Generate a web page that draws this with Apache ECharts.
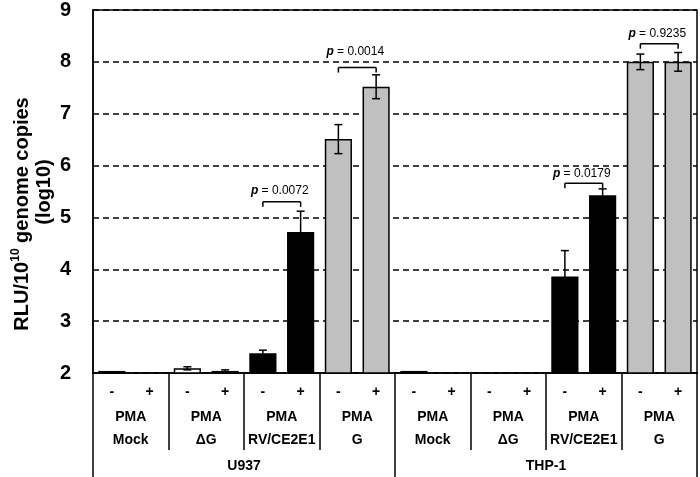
<!DOCTYPE html>
<html>
<head>
<meta charset="utf-8">
<script src="https://cdn.jsdelivr.net/npm/echarts@6/dist/echarts.min.js"></script>
<style>
  html, body { margin: 0; padding: 0; background: #fff; }
  #main { width: 700px; height: 477px; }
</style>
</head>
<body>
<div id="main"></div>
<script>
// bar categories (PMA - / +)
const categories = ['-', '+', '-', '+', '-', '+', '-', '+', '-', '+', '-', '+', '-', '+', '-', '+'];
const groups = ['Mock', 'ΔG', 'RV/CE2E1', 'G', 'Mock', 'ΔG', 'RV/CE2E1', 'G'];
const cells = ['U937', 'THP-1'];
// log10 RLU per 10^10 genome copies
const values = [2.04, null, 2.09, 2.04, 2.38, 4.72, 6.51, 7.52, 2.04, null, null, null, 3.86, 5.43, 8.0, 8.0];
const errors = [0, 0, 0.03, 0.02, 0.06, 0.40, 0.28, 0.23, 0, 0, 0, 0, 0.50, 0.12, 0.15, 0.18];
const groupColors = ['#ffffff', '#ffffff', '#000000', '#c0c0c0', '#ffffff', '#ffffff', '#000000', '#c0c0c0'];
// p value brackets: left bar, right bar, bracket level, text level
const pLabels = ['0.0072', '0.0014', '0.0179', '0.9235'];
const pLeft = [4, 6, 12, 14];
const pRight = [5, 7, 13, 15];
const pLevel = [5.30, 7.89, 5.66, 8.35];
const pTextLevel = [5.51, 8.20, 5.85, 8.54];

const FONT = 'Liberation Sans, Arial, sans-serif';

const chart = echarts.init(document.getElementById('main'));

const barData = values.map((v, i) => ({
  value: v,
  itemStyle: { color: groupColors[Math.floor(i / 2)] }
}));
const errData = values.map((v, i) => v == null ? null : [i, v - errors[i], v + errors[i]]).filter(d => d && errors[d[0]] > 0);
const bracketData = pLabels.map((p, i) => [pLeft[i], pRight[i], pLevel[i], pTextLevel[i]]);

const option = {
  animation: false,
  grid: { left: 93, right: 3, top: 8, bottom: 104, show: true, borderColor: '#000', borderWidth: 1.5 },
  xAxis: [
    {
      type: 'category', data: categories, position: 'bottom',
      axisLine: { lineStyle: { color: '#000', width: 1.5 } },
      axisTick: { show: false },
      axisLabel: { interval: 0, margin: 12, fontSize: 14, fontWeight: 'bold', color: '#000', fontFamily: FONT }
    },
    {
      type: 'category', data: groups, position: 'bottom', offset: 0,
      axisLine: { show: false },
      axisTick: { show: true, interval: 0, length: 77, lineStyle: { color: '#000', width: 1.5 } },
      axisLabel: { interval: 0, margin: 33, lineHeight: 23, formatter: 'PMA\n{value}', fontSize: 14, fontWeight: 'bold', color: '#000', fontFamily: FONT }
    },
    {
      type: 'category', data: cells, position: 'bottom', offset: 0,
      axisLine: { show: false },
      axisTick: { show: true, interval: 0, length: 104, lineStyle: { color: '#000', width: 1.5 } },
      axisLabel: { interval: 0, margin: 86, fontSize: 14, fontWeight: 'bold', color: '#000', fontFamily: FONT }
    }
  ],
  yAxis: {
    type: 'value', min: 2, max: 9, interval: 1,
    axisLine: { show: true, lineStyle: { color: '#000', width: 1.5 } },
    axisTick: { show: false },
    axisLabel: { margin: 22, fontSize: 20, fontWeight: 'bold', color: '#000', fontFamily: FONT },
    splitLine: { show: true, lineStyle: { color: '#000', width: 1.5, type: [6, 4] } }
  },
  graphic: [
    {
      type: 'text', x: 22, y: 214, rotation: Math.PI / 2,
      style: {
        text: '{a|RLU/10}{s|10}{a| genome copies}',
        align: 'center', verticalAlign: 'middle',
        rich: {
          a: { fontSize: 20, fontWeight: 'bold', fontFamily: FONT, fill: '#000', lineHeight: 24 },
          s: { fontSize: 12, fontWeight: 'bold', fontFamily: FONT, fill: '#000', verticalAlign: 'top', lineHeight: 24 }
        }
      }
    },
    {
      type: 'text', x: 44, y: 192, rotation: Math.PI / 2,
      style: { text: '(log10)', align: 'center', verticalAlign: 'middle', fontSize: 20, fontWeight: 'bold', fontFamily: FONT, fill: '#000' }
    }
  ],
  series: [
    {
      type: 'bar', xAxisIndex: 0, data: barData, barWidth: '72%',
      itemStyle: { borderColor: '#000', borderWidth: 1.5 },
      z: 2
    },
    {
      type: 'custom', xAxisIndex: 0, data: errData, z: 3,
      encode: { x: 0, y: [1, 2] },
      renderItem: (params, api) => {
        const x = api.coord([api.value(0), 0])[0];
        const lo = api.coord([api.value(0), api.value(1)])[1];
        const hi = api.coord([api.value(0), api.value(2)])[1];
        const w = 4;
        const st = { stroke: '#000', lineWidth: 1.5 };
        return {
          type: 'group', children: [
            { type: 'line', shape: { x1: x, y1: lo, x2: x, y2: hi }, style: st },
            { type: 'line', shape: { x1: x - w, y1: lo, x2: x + w, y2: lo }, style: st },
            { type: 'line', shape: { x1: x - w, y1: hi, x2: x + w, y2: hi }, style: st }
          ]
        };
      }
    },
    {
      type: 'custom', xAxisIndex: 0, data: bracketData, z: 4,
      encode: { x: [0, 1], y: [2, 3] },
      renderItem: (params, api) => {
        const l = api.coord([api.value(0), api.value(2)]);
        const r = api.coord([api.value(1), api.value(2)]);
        const ty = api.coord([api.value(0), api.value(3)])[1];
        const st = { stroke: '#000', lineWidth: 1.5 };
        return {
          type: 'group', children: [
            { type: 'line', shape: { x1: l[0], y1: l[1], x2: r[0], y2: r[1] }, style: st },
            { type: 'line', shape: { x1: l[0], y1: l[1], x2: l[0], y2: l[1] + 5 }, style: st },
            { type: 'line', shape: { x1: r[0], y1: r[1], x2: r[0], y2: r[1] + 5 }, style: st },
            {
              type: 'text', x: (l[0] + r[0]) / 2 - 2, y: ty,
              style: {
                text: '{p|p} {n|= ' + pLabels[params.dataIndex] + '}',
                align: 'center', verticalAlign: 'middle',
                rich: {
                  p: { fontSize: 12, fontStyle: 'italic', fontWeight: 'bold', fontFamily: FONT, fill: '#000' },
                  n: { fontSize: 12, fontFamily: FONT, fill: '#000' }
                }
              }
            }
          ]
        };
      }
    }
  ]
};

chart.setOption(option);
</script>
</body>
</html>
